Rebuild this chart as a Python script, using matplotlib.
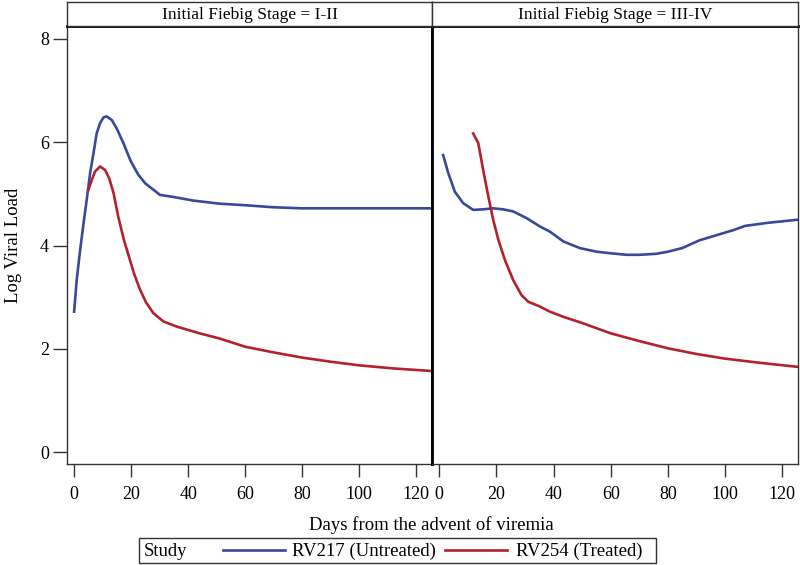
import matplotlib.pyplot as plt
from matplotlib.patches import Rectangle
from matplotlib.lines import Line2D

plt.rcParams['font.family'] = ['Liberation Serif', 'DejaVu Serif']

# Fiebig stage I-II
days_217_a = [0, 0.9, 2.1, 3.3, 4.4, 5.6, 6.8, 7.9, 9.1, 10.3, 11.4, 13.2, 14.9, 17.3, 19.8,
              22.5, 25, 27.8, 30.1, 34.8, 41.8, 51, 60, 70, 80, 100, 115, 125.5]
vl_217_a = [2.72, 3.33, 3.91, 4.43, 4.88, 5.40, 5.79, 6.17, 6.37, 6.48, 6.50, 6.43, 6.27, 5.98, 5.64,
            5.37, 5.20, 5.08, 4.98, 4.94, 4.87, 4.81, 4.78, 4.74, 4.72, 4.72, 4.72, 4.72]
days_254_a = [5.0, 6.2, 7.3, 9.1, 10.9, 12.3, 13.8, 15.5, 17.5, 19.3, 21.0, 23.0, 25.2, 27.8,
              31.3, 36, 44, 51, 60, 70, 80, 90, 100, 112, 125.5]
vl_254_a = [5.08, 5.27, 5.43, 5.53, 5.46, 5.30, 5.02, 4.55, 4.10, 3.77, 3.46, 3.16, 2.90, 2.69,
            2.53, 2.43, 2.30, 2.20, 2.04, 1.93, 1.83, 1.75, 1.68, 1.62, 1.57]

# Fiebig stage III-IV
days_217_b = [1.4, 3.2, 5.5, 8.4, 11.9, 15.4, 18.9, 22.4, 25.9, 30.6, 35.2, 38.7, 43.4, 49.2,
              55.1, 60, 65.6, 70, 76, 80, 85, 91, 97, 103, 107, 115, 125.5]
vl_217_b = [5.75, 5.40, 5.04, 4.82, 4.69, 4.70, 4.72, 4.70, 4.66, 4.53, 4.37, 4.27, 4.08, 3.95,
            3.88, 3.85, 3.82, 3.82, 3.84, 3.88, 3.95, 4.10, 4.20, 4.30, 4.38, 4.44, 4.50]
days_254_b = [11.9, 13.7, 15.4, 17.2, 18.9, 20.7, 23.0, 25.9, 28.8, 31.2, 35.2, 38.7, 43.4,
              50, 60, 70, 80, 90, 100, 112, 125.5]
vl_254_b = [6.17, 5.98, 5.46, 4.95, 4.50, 4.11, 3.72, 3.33, 3.04, 2.91, 2.82, 2.72, 2.62,
            2.50, 2.30, 2.15, 2.01, 1.90, 1.81, 1.73, 1.65]

panels = ['Initial Fiebig Stage = I-II', 'Initial Fiebig Stage = III-IV']
series = ['RV217 (Untreated)', 'RV254 (Treated)']
xticks = [0, 20, 40, 60, 80, 100, 120]
yticks = [0, 2, 4, 6, 8]

blue = '#38489a'
red = '#b3222c'
frame = '#333333'

W, H = 800, 565
fig = plt.figure(figsize=(8, 5.65), dpi=100)


def box(x0, y0, x1, y1):
    # pixel box (top-left origin) -> figure fraction
    return [x0 / W, 1 - y1 / H, (x1 - x0) / W, (y1 - y0) / H]


def fx(px):
    return px / W


def fy(py):
    return 1 - py / H


ax1 = fig.add_axes(box(67, 26, 432, 464))
ax2 = fig.add_axes(box(432, 26, 798, 464))

l1, = ax1.plot(days_217_a, vl_217_a, color=blue, lw=1.9, solid_joinstyle='round')
l2, = ax1.plot(days_254_a, vl_254_a, color=red, lw=1.9, solid_joinstyle='round')
ax2.plot(days_217_b, vl_217_b, color=blue, lw=1.9, solid_joinstyle='round')
ax2.plot(days_254_b, vl_254_b, color=red, lw=1.9, solid_joinstyle='round')

for ax in (ax1, ax2):
    ax.set_xlim(-2.5, 125.5)
    ax.set_ylim(-0.23, 8.25)
    ax.set_xticks(xticks)
    ax.tick_params(axis='x', length=9, width=1, color=frame, labelsize=13, pad=7)
    for s in ax.spines.values():
        s.set_linewidth(1.0)
        s.set_color(frame)
    ax.spines['top'].set_linewidth(2)
    ax.spines['top'].set_color('black')

ax1.set_yticks(yticks)
ax1.tick_params(axis='y', length=10, width=1, color=frame, labelsize=13, pad=3)
ax1.set_ylabel('Log Viral Load', fontsize=13.5, labelpad=13)
ax2.set_yticks([])

# thick divider between the panels
ax1.spines['right'].set_linewidth(2)
ax1.spines['right'].set_color('black')
ax2.spines['left'].set_linewidth(2)
ax2.spines['left'].set_color('black')

# panel headers
for (x0, x1), title in zip([(67, 432), (432, 798)], panels):
    hx = fig.add_axes(box(x0, 2, x1, 26))
    hx.set_xticks([])
    hx.set_yticks([])
    for s in hx.spines.values():
        s.set_linewidth(1.0)
        s.set_color(frame)
    hx.text(0.5, 0.45, title, ha='center', va='center', fontsize=12.5, transform=hx.transAxes)

fig.text(fx(431), fy(525), 'Days from the advent of viremia', ha='center', va='center', fontsize=13.5)

# legend box along the bottom
fig.patches.append(Rectangle((fx(139), fy(563)), fx(656) - fx(139), fy(538) - fy(563),
                             transform=fig.transFigure, fill=False, edgecolor=frame, lw=1.0))
fig.text(fx(144), fy(551), 'Study', ha='left', va='center', fontsize=13.5)
for line, name, (lx0, lx1, tx) in zip([l1, l2], series, [(223, 285, 292), (445, 507, 516)]):
    fig.add_artist(Line2D([fx(lx0), fx(lx1)], [fy(550), fy(550)], transform=fig.transFigure,
                          color=line.get_color(), lw=line.get_linewidth()))
    fig.text(fx(tx), fy(551), name, ha='left', va='center', fontsize=13.5)

fig.savefig('out.png', dpi=100)
